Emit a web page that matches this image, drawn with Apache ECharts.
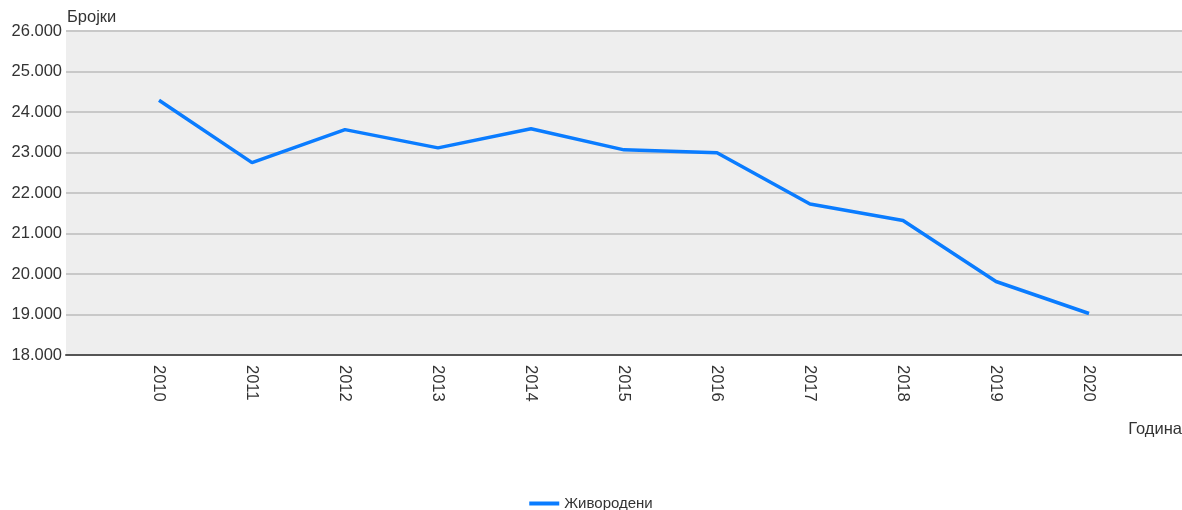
<!DOCTYPE html>
<html>
<head>
<meta charset="utf-8">
<script src="https://cdn.jsdelivr.net/npm/echarts@6/dist/echarts.min.js"></script>
<style>
html,body{margin:0;padding:0;background:#fff;}
#chart{width:1182px;height:510px;}
</style>
</head>
<body>
<div id="chart"></div>
<script>
const years = ['2010','2011','2012','2013','2014','2015','2016','2017','2018','2019','2020'];
const liveBirths = [24290, 22750, 23565, 23115, 23585, 23065, 22995, 21730, 21320, 19815, 19025];
const seriesName = 'Живородени';
const yAxisTitle = 'Бројки';
const xAxisTitle = 'Година';

const categories = [''].concat(years).concat(['']);
const font = "'Liberation Sans', Arial, sans-serif";
const fmt = v => String(v).replace(/\B(?=(\d{3})+(?!\d))/g, '.');

const chart = echarts.init(document.getElementById('chart'));
chart.setOption({
  animation: false,
  textStyle: { fontFamily: font },
  grid: {
    left: 66, right: 0, top: 31, bottom: 155,
    show: true, backgroundColor: '#eeeeee', borderWidth: 0
  },
  legend: {
    bottom: -6, left: 'center',
    itemWidth: 30, itemHeight: 4, itemGap: 8,
    icon: 'rect',
    textStyle: { fontSize: 15, color: '#333', fontFamily: font },
    data: [seriesName]
  },
  graphic: [{
    type: 'text', right: 0, top: 421,
    style: { text: xAxisTitle, fontSize: 16.5, fill: '#333', fontFamily: font }
  }, {
    type: 'text', left: 67, top: 9,
    style: { text: yAxisTitle, fontSize: 16.5, fill: '#333', fontFamily: font }
  }],
  xAxis: {
    type: 'category',
    data: categories,
    boundaryGap: false,
    axisLine: { show: true, lineStyle: { color: '#555', width: 2 } },
    axisTick: { show: false },
    axisLabel: { rotate: -90, fontSize: 16.5, color: '#333', margin: 10, interval: 0 },
    splitLine: { show: false }
  },
  yAxis: {
    type: 'value',
    min: 18000, max: 26000, interval: 1000,
    axisLine: { show: false },
    axisTick: { show: false },
    axisLabel: { fontSize: 16.5, color: '#333', margin: 4, formatter: v => fmt(v) },
    splitLine: { show: true, lineStyle: { color: '#c8c8c8', width: 2 } }
  },
  series: [{
    name: seriesName,
    type: 'line',
    data: years.map((y, i) => [y, liveBirths[i]]),
    showSymbol: false,
    symbol: 'none',
    lineStyle: { color: '#0a7cff', width: 3.5 },
    itemStyle: { color: '#0a7cff' }
  }]
});
</script>
</body>
</html>
